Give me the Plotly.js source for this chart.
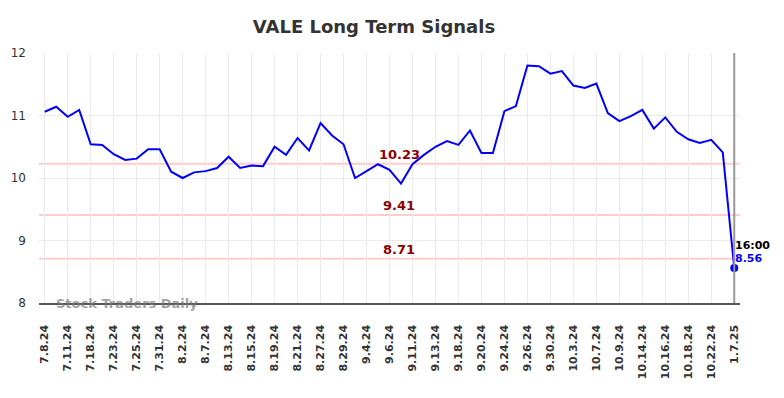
<!DOCTYPE html>
<html>
<head>
<meta charset="utf-8">
<script src="https://cdn.plot.ly/plotly-3.0.1.min.js"></script>
<style>html,body{margin:0;padding:0;background:#fff;}#chart{width:784px;height:398px;}</style>
</head>
<body>
<div id="chart"></div>
<script>
const dates = ["7.8.24","7.9.24","7.11.24","7.16.24","7.18.24","7.22.24","7.23.24","7.24.24","7.25.24","7.29.24",
  "7.31.24","8.1.24","8.2.24","8.5.24","8.7.24","8.9.24","8.13.24","8.14.24","8.15.24","8.16.24",
  "8.19.24","8.20.24","8.21.24","8.26.24","8.27.24","8.28.24","8.29.24","9.3.24","9.4.24","9.5.24",
  "9.6.24","9.10.24","9.11.24","9.12.24","9.13.24","9.17.24","9.18.24","9.19.24","9.20.24","9.23.24",
  "9.24.24","9.25.24","9.26.24","9.27.24","9.30.24","10.2.24","10.3.24","10.4.24","10.7.24","10.8.24",
  "10.9.24","10.11.24","10.14.24","10.15.24","10.16.24","10.17.24","10.18.24","10.21.24","10.22.24","10.23.24",
  "1.7.25"];
const prices = [11.06,11.14,10.98,11.09,10.54,10.53,10.38,10.29,10.31,10.46,
  10.46,10.10,10.00,10.09,10.11,10.16,10.34,10.16,10.20,10.19,
  10.50,10.37,10.64,10.44,10.88,10.68,10.54,10.00,10.11,10.22,
  10.13,9.91,10.22,10.37,10.50,10.59,10.53,10.76,10.40,10.40,
  11.07,11.15,11.80,11.79,11.67,11.71,11.48,11.44,11.51,11.04,
  10.91,10.99,11.09,10.79,10.97,10.74,10.62,10.56,10.61,10.41,
  8.56];
const tickLabels = dates.filter((d, i) => i % 2 === 0);
const signalLevels = [10.23, 9.41, 8.71];
const lastTime = "16:00";
const titleText = "VALE Long Term Signals";
const watermark = "Stock Traders Daily";

const lastIdx = dates.length - 1;
const idx = dates.map((d, i) => i);

const traces = [
  {x: idx, y: prices, type: 'scatter', mode: 'lines',
   line: {color: '#0000ff', width: 2}, hoverinfo: 'skip'},
  {x: [lastIdx], y: [prices[lastIdx]], type: 'scatter', mode: 'markers',
   marker: {color: '#0000ff', size: 8}, hoverinfo: 'skip'}
];

const shapes = signalLevels.map(v => ({
  type: 'line', xref: 'paper', x0: 0, x1: 1, yref: 'y', y0: v, y1: v,
  line: {color: 'rgba(255,190,190,0.8)', width: 2}, layer: 'below'
}));
shapes.push({type: 'line', xref: 'x', x0: lastIdx, x1: lastIdx, yref: 'paper', y0: 0, y1: 1,
  line: {color: '#999999', width: 2}});

const annotations = signalLevels.map(v => ({
  xref: 'paper', x: 0.514, yref: 'y', y: v, yshift: 9, xanchor: 'center', yanchor: 'middle',
  text: '<b>' + v.toFixed(2) + '</b>', showarrow: false,
  font: {family: 'DejaVu Sans', size: 13, color: '#8b0000'}
}));
annotations.push({xref: 'x', x: lastIdx, yref: 'y', y: prices[lastIdx], xanchor: 'left', yanchor: 'middle',
  yshift: 23, xshift: -1, text: '<b>' + lastTime + '</b>', showarrow: false,
  font: {family: 'DejaVu Sans', size: 11, color: '#000'}});
annotations.push({xref: 'x', x: lastIdx, yref: 'y', y: prices[lastIdx], xanchor: 'left', yanchor: 'middle',
  yshift: 10, xshift: -1, text: '<b>' + prices[lastIdx].toFixed(2) + '</b>', showarrow: false,
  font: {family: 'DejaVu Sans', size: 11, color: '#0000ff'}});
annotations.push({xref: 'paper', x: 0.021, yref: 'y', y: 8, xanchor: 'left', yanchor: 'middle',
  text: '<b>' + watermark + '</b>', showarrow: false,
  font: {family: 'DejaVu Sans', size: 13, color: 'rgba(120,120,120,0.7)'}});

const layout = {
  width: 784, height: 398,
  margin: {l: 39, r: 44, t: 53, b: 95},
  paper_bgcolor: '#fff', plot_bgcolor: '#fff',
  showlegend: false,
  title: {text: '<b>' + titleText + '</b>', x: 0.477, xanchor: 'center', y: 0.932, yanchor: 'middle',
    font: {family: 'DejaVu Sans', size: 18, color: '#333'}},
  xaxis: {
    range: [-0.5, 60.5], tickmode: 'array',
    tickvals: idx.filter(i => i % 2 === 0), ticktext: tickLabels,
    tickangle: -90, tickfont: {family: 'DejaVu Sans', size: 11, color: '#333', weight: 'bold'},
    showgrid: true, gridcolor: '#ebebeb', gridwidth: 1,
    showline: true, linecolor: '#555', linewidth: 1.5,
    ticks: '', ticklabelstandoff: 16, zeroline: false, fixedrange: true
  },
  yaxis: {
    range: [8, 12], tickvals: [8, 9, 10, 11, 12],
    tickfont: {family: 'DejaVu Sans', size: 12, color: '#333'},
    showgrid: true, gridcolor: '#ebebeb', gridwidth: 1,
    showline: false, zeroline: false, ticks: '', ticklabelstandoff: 12, fixedrange: true
  },
  shapes: shapes,
  annotations: annotations
};

Plotly.newPlot('chart', traces, layout, {staticPlot: true, displayModeBar: false});
</script>
</body>
</html>
